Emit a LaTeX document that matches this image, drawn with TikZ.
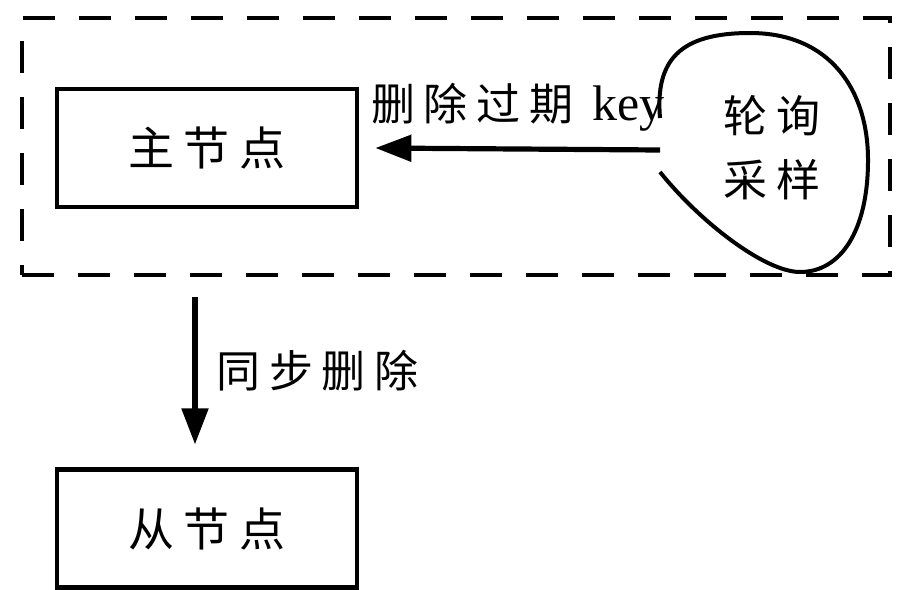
\documentclass[tikz,border=0pt]{standalone}
\usepackage{fontspec}
\setmainfont{Liberation Serif}
\newfontfamily\cjk[LetterSpace=20]{Noto Sans CJK SC}
\usetikzlibrary{arrows.meta,positioning}

\begin{document}
\begin{tikzpicture}[x=0.5pt,y=-0.5pt,node distance=129pt,
  box/.style={draw,line width=2.4pt,minimum width=150pt,minimum height=59pt,font=\cjk\fontsize{23}{28}\selectfont},
  zone/.style={draw,line width=2.4pt,dash pattern=on 16pt off 12pt},
  lbl/.style={font=\cjk\fontsize{22}{32}\selectfont},
  flow/.style={-{Triangle[length=18pt,width=13pt]},line width=2.6pt}]
\useasboundingbox (0,0) rectangle (897,589);
\node[zone,minimum width=434pt,minimum height=128.5pt] (zone) at (456,146.5) {};
\node[box] (master) at (207,148) {主节点};
\node[box,below=of master] (slave) {从节点};
\node[lbl,align=center] (sample) at (772,148) {轮询\\采样};
% outline of the sampler
\draw[line width=2pt] (660,118) .. controls (655,60) and (680,33) .. (750,33)
  .. controls (830,33) and (868,90) .. (868,160)
  .. controls (868,232) and (840,272) .. (800,272)
  .. controls (765,272) and (700,222) .. (660,172);
\coordinate (tip) at (660,150);
\draw[flow] (tip) -- node[lbl,above=4pt]{删除过期 {\rmfamily\fontsize{25}{30}\selectfont key}} ([xshift=8pt]master.east);
\draw[flow] ([xshift=-6pt,yshift=-44pt]master.south) -- node[lbl,right=6pt]{同步删除} ([xshift=-6pt,yshift=11.5pt]slave.north);
\end{tikzpicture}
\end{document}
